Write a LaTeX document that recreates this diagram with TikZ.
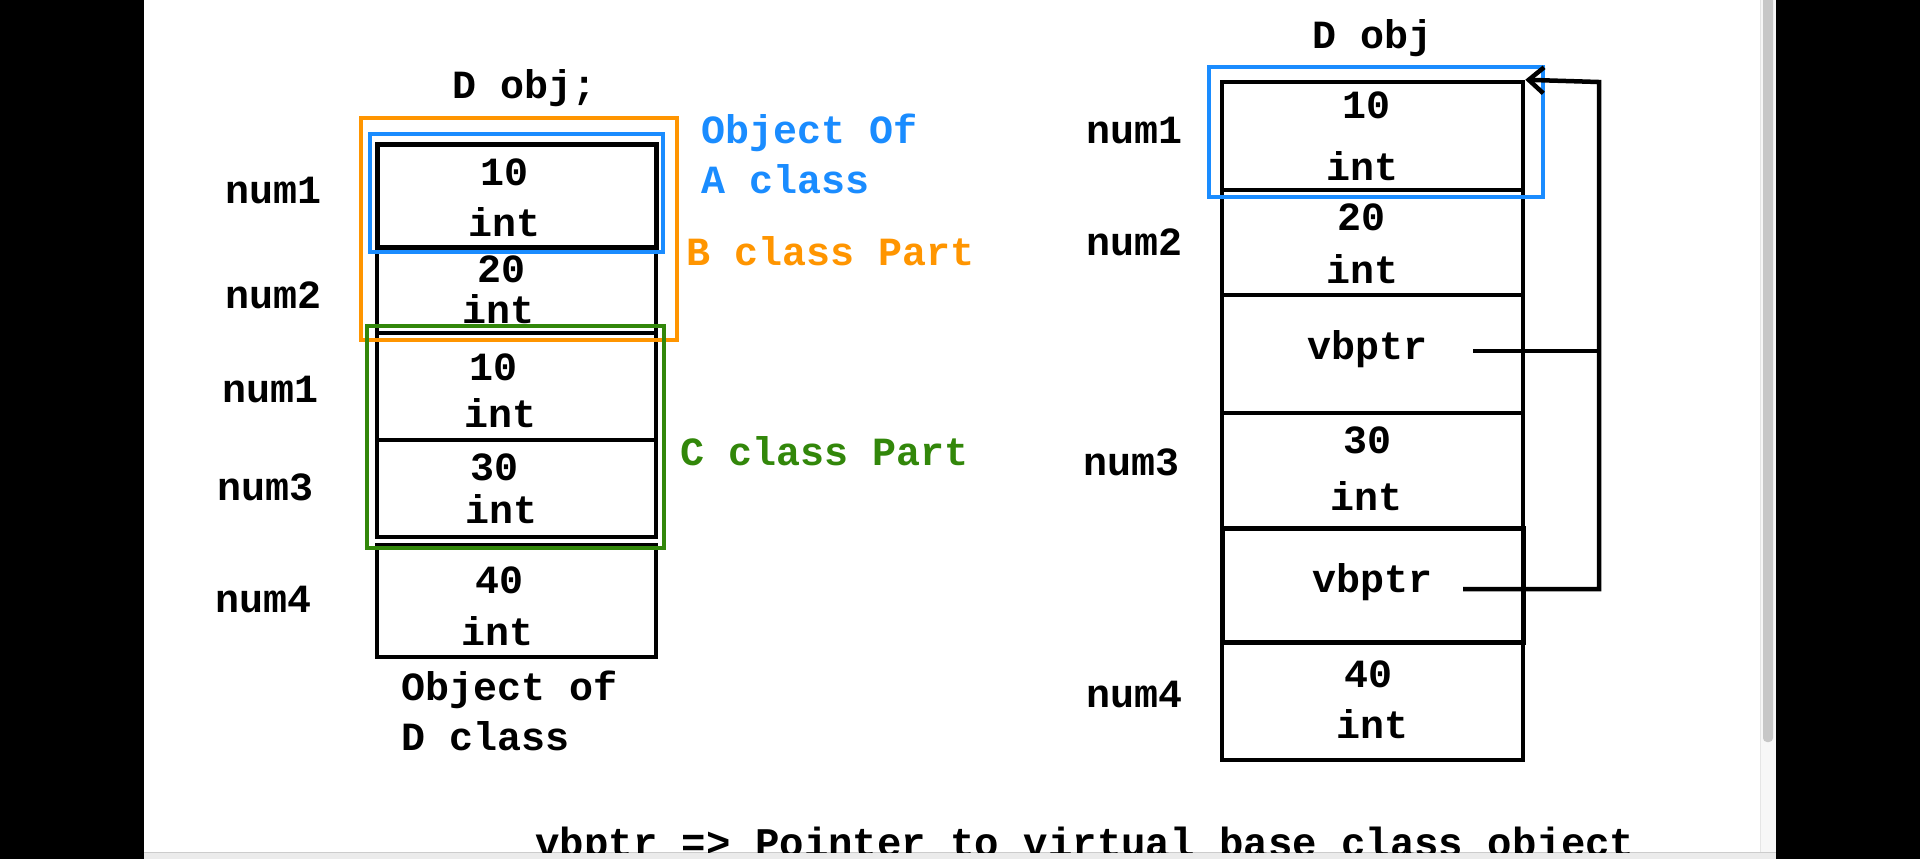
\documentclass[tikz,border=0pt]{standalone}
\usepackage{fontspec}
\setmainfont{Liberation Mono}
\usetikzlibrary{arrows.meta}
\definecolor{hlblue}{RGB}{26,140,255}
\definecolor{hlorange}{RGB}{255,149,0}
\definecolor{hlgreen}{RGB}{50,135,10}
\begin{document}
\begin{tikzpicture}[x=0.5pt,y=-0.5pt,
  cell/.style={draw=black, line width=1.75pt, rectangle, inner sep=0pt},
  txt/.style={font=\bfseries\fontsize{20}{24}\selectfont, anchor=base, inner sep=0pt},
  ltxt/.style={txt, anchor=base west},
  hlbox/.style={draw, line width=2pt, rectangle, inner sep=0pt},
  link/.style={draw=black, line width=2pt},
  ptr/.style={link, -{Straight Barb[length=7.5pt,width=13pt]}}]
\useasboundingbox (0,0) rectangle (1920,859);
\fill[white] (0,0) rectangle (1920,859);
\fill[black] (0,0) rectangle (144,859);
\fill[black] (1776,0) rectangle (1920,859);
% scrollbar
\fill[black!3] (1760,0) rectangle (1776,852);
\draw[black!10, line width=0.5pt] (1760,0) -- (1760,852);
\fill[black!22, rounded corners=2pt] (1763,-10) rectangle (1773,742);
% bottom bar
\fill[black!8] (144,852) rectangle (1776,859);
\draw[black!20, line width=0.75pt] (144,852.5) -- (1776,852.5);

% ---------- left object ----------
\node[txt] (ltitle) at (525,98) {D obj;};
\node[cell, line width=2.5pt, minimum width=139.5pt, minimum height=51.5pt] (L1) at (516.5,195.5) {};
\node[cell, minimum width=139.5pt, minimum height=43pt] (L2) at (516.5,290) {};
\node[cell, minimum width=139.5pt, minimum height=53.5pt] (L3) at (516.5,386.5) {};
\node[cell, minimum width=139.5pt, minimum height=48.5pt] (L4) at (516.5,488.5) {};
\node[cell, minimum width=139.5pt, minimum height=56pt] (L5) at (516.5,601) {};

\node[txt] (l1v) at (504,185) {10};
\node[txt] (l1t) at (504,236) {int};
\node[txt] (l2v) at (501,282) {20};
\node[txt] (l2t) at (498,323) {int};
\node[txt] (l3v) at (493,380) {10};
\node[txt] (l3t) at (500,427) {int};
\node[txt] (l4v) at (494,480) {30};
\node[txt] (l4t) at (501,523) {int};
\node[txt] (l5v) at (499,593) {40};
\node[txt] (l5t) at (497,645) {int};

\node[txt] (ln1) at (273.5,203) {num1};
\node[txt] (ln2) at (273.5,308) {num2};
\node[txt] (ln3) at (270.5,402) {num1};
\node[txt] (ln4) at (266,500) {num3};
\node[txt] (ln5) at (263.5,612) {num4};

\node[hlbox, draw=hlorange, minimum width=158pt, minimum height=111pt] (Bpart) at (519,229) {};
\node[hlbox, draw=hlblue, minimum width=146.5pt, minimum height=59pt] (Apart) at (516.5,193) {};
\node[hlbox, draw=hlgreen, minimum width=148.5pt, minimum height=111pt] (Cpart) at (515.5,437) {};

\node[ltxt, text=hlblue] (aob1) at (701,143) {Object Of};
\node[ltxt, text=hlblue] (aob2) at (701,193) {A class};
\node[ltxt, text=hlorange] (bcl) at (686,265) {B class Part};
\node[ltxt, text=hlgreen] (ccl) at (680,465) {C class Part};
\node[ltxt] (dob1) at (401,700) {Object of};
\node[ltxt] (dob2) at (401,750) {D class};

% ---------- right object ----------
\node[txt] (rtitle) at (1372,48) {D obj};
\node[cell, line width=2.25pt, minimum width=150.5pt, minimum height=54pt] (R1) at (1372.5,136) {};
\node[cell, line width=2pt, minimum width=150.5pt, minimum height=52.5pt] (R2) at (1372.5,242.5) {};
\node[cell, line width=2pt, minimum width=150.5pt, minimum height=59pt] (R3) at (1372.5,354) {};
\node[cell, line width=2pt, minimum width=150.5pt, minimum height=57.5pt] (R4) at (1372.5,470.5) {};
\node[cell, line width=2.5pt, minimum width=150.5pt, minimum height=57pt] (R5) at (1372.5,585) {};
\node[cell, line width=2pt, minimum width=150.5pt, minimum height=59pt] (R6) at (1372.5,701) {};

\node[txt] (r1v) at (1366,118) {10};
\node[txt] (r1t) at (1362,180) {int};
\node[txt] (r2v) at (1361,230) {20};
\node[txt] (r2t) at (1362,283) {int};
\node[txt] (r3p) at (1367,359) {vbptr};
\node[txt] (r4v) at (1367,453) {30};
\node[txt] (r4t) at (1366,510) {int};
\node[txt] (r5p) at (1372,592) {vbptr};
\node[txt] (r6v) at (1368,687) {40};
\node[txt] (r6t) at (1372,738) {int};

\node[txt] (rn1) at (1134.5,143) {num1};
\node[txt] (rn2) at (1134.5,255) {num2};
\node[txt] (rn3) at (1131,475) {num3};
\node[txt] (rn4) at (1134.5,707) {num4};

\node[hlbox, draw=hlblue, minimum width=167pt, minimum height=65pt] (Aright) at (1376,132) {};

% pointers
\coordinate (s1) at (1473,351);
\coordinate (s2) at (1463,589);
\coordinate (rail) at (1599,82);
\draw[ptr, line width=2.25pt] (s2) -| (rail) -- (R1.north east);
\draw[link] (s1) -- (s1 -| rail);

% footnote (cut off at the bottom, as in the reference)
\begin{scope}
\clip (144,0) rectangle (1760,852);
\node[ltxt, font=\bfseries\fontsize{20.35}{24}\selectfont] (note) at (535,856) {vbptr => Pointer to virtual base class object};
\end{scope}
\end{tikzpicture}
\end{document}
